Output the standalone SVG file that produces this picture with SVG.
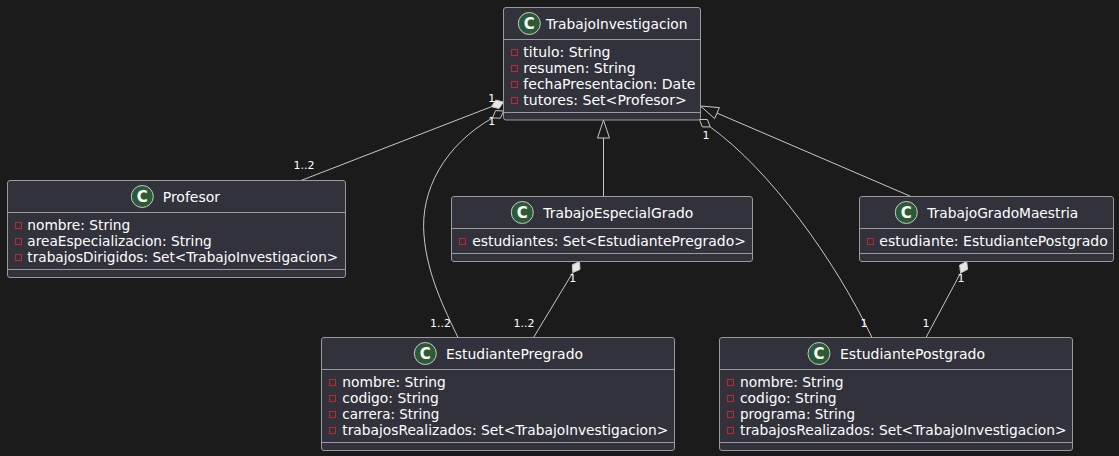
<svg xmlns="http://www.w3.org/2000/svg" width="1119" height="456" viewBox="0 0 1119 456">
<defs>
<style>
.bg{fill:#1b1b1c}
.box{fill:#32323c;stroke:#9a9a9a;stroke-width:1}
.sep{stroke:#9a9a9a;stroke-width:1}
.spot{fill:#2b5a37;stroke:#c8c8c8;stroke-width:1}
.spotC{font-family:"DejaVu Sans",sans-serif;font-size:15px;font-weight:bold;fill:#ffffff;text-anchor:middle}
.title{font-family:"DejaVu Sans",sans-serif;font-size:14px;fill:#ffffff}
.attr{font-family:"DejaVu Sans",sans-serif;font-size:14px;fill:#ffffff}
.priv{fill:none;stroke:#c0282d;stroke-width:1}
.ln{fill:none;stroke:#c8c8c8;stroke-width:1}
.open{fill:#1b1b1c;stroke:#c8c8c8;stroke-width:1}
.full{fill:#e6e6e6;stroke:#c8c8c8;stroke-width:1}
.lbl{font-family:"DejaVu Sans",sans-serif;font-size:11px;fill:#ffffff;text-anchor:middle}
</style>
</defs>
<rect class="bg" x="0" y="0" width="1119" height="456"/>

<g id="connectors">
  <line class="ln" x1="491.4" y1="106.7" x2="301" y2="180.5"/>
  <polygon class="full" points="503.5,102 499,108.5 491.4,106.7 495.8,100.1"/>
  <text class="lbl" x="491.7" y="101.7">1</text>
  <text class="lbl" x="304" y="169">1..2</text>
  <path class="ln" d="M492.5,117.9 C445,145 420,190 424,235 C427,275 445,310 458,337.5"/>
  <polygon class="open" points="503.5,111 500.4,118.2 492.5,117.9 495.6,110.6"/>
  <text class="lbl" x="491.7" y="125">1</text>
  <text class="lbl" x="440.5" y="326.5">1..2</text>
  <line class="ln" x1="603.5" y1="138" x2="603.5" y2="196.5"/>
  <polygon class="open" points="603.5,120 597.5,138 609.5,138"/>
  <line class="ln" x1="717" y1="113.1" x2="911" y2="196.5"/>
  <polygon class="open" points="700.5,106 719.4,107.6 714.6,118.6"/>
  <path class="ln" d="M710.2,126.9 C770,170 835,260 872,337.5"/>
  <polygon class="open" points="699.5,119.5 702.3,126.9 710.2,126.9 707.4,119.5"/>
  <text class="lbl" x="706" y="139.3">1</text>
  <text class="lbl" x="864" y="326.5">1</text>
  <line class="ln" x1="572.8" y1="272.6" x2="533.5" y2="337.5"/>
  <polygon class="full" points="579.5,261.5 580,269.4 572.8,272.6 572.3,264.8"/>
  <text class="lbl" x="572.7" y="281.5">1</text>
  <text class="lbl" x="524" y="326.5">1..2</text>
  <line class="ln" x1="960.6" y1="273" x2="926" y2="337.5"/>
  <polygon class="full" points="966.7,261.5 967.6,269.3 960.6,273 959.6,265.1"/>
  <text class="lbl" x="961" y="281.5">1</text>
  <text class="lbl" x="926" y="326.5">1</text>
</g>

<g id="TrabajoInvestigacion">
  <rect class="box" x="503.5" y="7.5" width="197" height="112.5" rx="2.5"/>
  <circle class="spot" cx="529.3" cy="23.5" r="11"/>
  <text class="spotC" x="529.3" y="28.8">C</text>
  <text class="title" x="546" y="28.5" textLength="141.5" lengthAdjust="spacingAndGlyphs">TrabajoInvestigacion</text>
  <line class="sep" x1="503.5" y1="39.5" x2="700.5" y2="39.5"/>
  <rect class="priv" x="511.5" y="49.5" width="6" height="6"/>
  <text class="attr" x="523.3" y="56.5">titulo: String</text>
  <rect class="priv" x="511.5" y="65.5" width="6" height="6"/>
  <text class="attr" x="523.3" y="72.5">resumen: String</text>
  <rect class="priv" x="511.5" y="81.5" width="6" height="6"/>
  <text class="attr" x="523.3" y="88.5" textLength="172" lengthAdjust="spacingAndGlyphs">fechaPresentacion: Date</text>
  <rect class="priv" x="511.5" y="97.5" width="6" height="6"/>
  <text class="attr" x="523.3" y="104.5" textLength="163.5" lengthAdjust="spacingAndGlyphs">tutores: Set&lt;Profesor&gt;</text>
  <line class="sep" x1="503.5" y1="112.5" x2="700.5" y2="112.5"/>
</g>

<g id="Profesor">
  <rect class="box" x="7.5" y="180.5" width="338" height="97" rx="2.5"/>
  <circle class="spot" cx="142.3" cy="196.5" r="11"/>
  <text class="spotC" x="142.3" y="201.8">C</text>
  <text class="title" x="162.7" y="201.5">Profesor</text>
  <line class="sep" x1="7.5" y1="212.5" x2="345.5" y2="212.5"/>
  <rect class="priv" x="15.5" y="222.5" width="6" height="6"/>
  <text class="attr" x="27.3" y="229.5" textLength="103" lengthAdjust="spacingAndGlyphs">nombre: String</text>
  <rect class="priv" x="15.5" y="238.5" width="6" height="6"/>
  <text class="attr" x="27.3" y="245.5" textLength="184.5" lengthAdjust="spacingAndGlyphs">areaEspecializacion: String</text>
  <rect class="priv" x="15.5" y="254.5" width="6" height="6"/>
  <text class="attr" x="27.3" y="261.5" textLength="311" lengthAdjust="spacingAndGlyphs">trabajosDirigidos: Set&lt;TrabajoInvestigacion&gt;</text>
  <line class="sep" x1="7.5" y1="269.5" x2="345.5" y2="269.5"/>
</g>

<g id="TrabajoEspecialGrado">
  <rect class="box" x="451.5" y="196.5" width="301" height="65" rx="2.5"/>
  <circle class="spot" cx="522.3" cy="212.5" r="11"/>
  <text class="spotC" x="522.3" y="217.8">C</text>
  <text class="title" x="543.3" y="217.5" textLength="150" lengthAdjust="spacingAndGlyphs">TrabajoEspecialGrado</text>
  <line class="sep" x1="451.5" y1="228.5" x2="752.5" y2="228.5"/>
  <rect class="priv" x="459.5" y="238.5" width="6" height="6"/>
  <text class="attr" x="472.3" y="245.5" textLength="273.5" lengthAdjust="spacingAndGlyphs">estudiantes: Set&lt;EstudiantePregrado&gt;</text>
  <line class="sep" x1="451.5" y1="253.5" x2="752.5" y2="253.5"/>
</g>

<g id="TrabajoGradoMaestria">
  <rect class="box" x="859.5" y="196.5" width="254" height="65" rx="2.5"/>
  <circle class="spot" cx="906.3" cy="212.5" r="11"/>
  <text class="spotC" x="906.3" y="217.8">C</text>
  <text class="title" x="927.3" y="217.5" textLength="151" lengthAdjust="spacingAndGlyphs">TrabajoGradoMaestria</text>
  <line class="sep" x1="859.5" y1="228.5" x2="1113.5" y2="228.5"/>
  <rect class="priv" x="867.5" y="238.5" width="6" height="6"/>
  <text class="attr" x="879.3" y="245.5" textLength="228.5" lengthAdjust="spacingAndGlyphs">estudiante: EstudiantePostgrado</text>
  <line class="sep" x1="859.5" y1="253.5" x2="1113.5" y2="253.5"/>
</g>

<g id="EstudiantePregrado">
  <rect class="box" x="321.5" y="337.5" width="353" height="113" rx="2.5"/>
  <circle class="spot" cx="425.3" cy="353.5" r="11"/>
  <text class="spotC" x="425.3" y="358.8">C</text>
  <text class="title" x="446" y="358.5" textLength="137" lengthAdjust="spacingAndGlyphs">EstudiantePregrado</text>
  <line class="sep" x1="321.5" y1="369.5" x2="674.5" y2="369.5"/>
  <rect class="priv" x="329.5" y="379.5" width="6" height="6"/>
  <text class="attr" x="342.3" y="386.5" textLength="103.5" lengthAdjust="spacingAndGlyphs">nombre: String</text>
  <rect class="priv" x="329.5" y="395.5" width="6" height="6"/>
  <text class="attr" x="342.3" y="402.5" textLength="96.5" lengthAdjust="spacingAndGlyphs">codigo: String</text>
  <rect class="priv" x="329.5" y="411.5" width="6" height="6"/>
  <text class="attr" x="342.3" y="418.5" textLength="97" lengthAdjust="spacingAndGlyphs">carrera: String</text>
  <rect class="priv" x="329.5" y="427.5" width="6" height="6"/>
  <text class="attr" x="342.3" y="434.5" textLength="326" lengthAdjust="spacingAndGlyphs">trabajosRealizados: Set&lt;TrabajoInvestigacion&gt;</text>
  <line class="sep" x1="321.5" y1="442.5" x2="674.5" y2="442.5"/>
</g>

<g id="EstudiantePostgrado">
  <rect class="box" x="719.5" y="337.5" width="353" height="113" rx="2.5"/>
  <circle class="spot" cx="819" cy="353.5" r="11"/>
  <text class="spotC" x="819" y="358.8">C</text>
  <text class="title" x="840" y="358.5" textLength="145" lengthAdjust="spacingAndGlyphs">EstudiantePostgrado</text>
  <line class="sep" x1="719.5" y1="369.5" x2="1072.5" y2="369.5"/>
  <rect class="priv" x="727.5" y="379.5" width="6" height="6"/>
  <text class="attr" x="740" y="386.5" textLength="103.5" lengthAdjust="spacingAndGlyphs">nombre: String</text>
  <rect class="priv" x="727.5" y="395.5" width="6" height="6"/>
  <text class="attr" x="740" y="402.5" textLength="96.5" lengthAdjust="spacingAndGlyphs">codigo: String</text>
  <rect class="priv" x="727.5" y="411.5" width="6" height="6"/>
  <text class="attr" x="740" y="418.5" textLength="115" lengthAdjust="spacingAndGlyphs">programa: String</text>
  <rect class="priv" x="727.5" y="427.5" width="6" height="6"/>
  <text class="attr" x="740" y="434.5" textLength="326.5" lengthAdjust="spacingAndGlyphs">trabajosRealizados: Set&lt;TrabajoInvestigacion&gt;</text>
  <line class="sep" x1="719.5" y1="442.5" x2="1072.5" y2="442.5"/>
</g>
</svg>
